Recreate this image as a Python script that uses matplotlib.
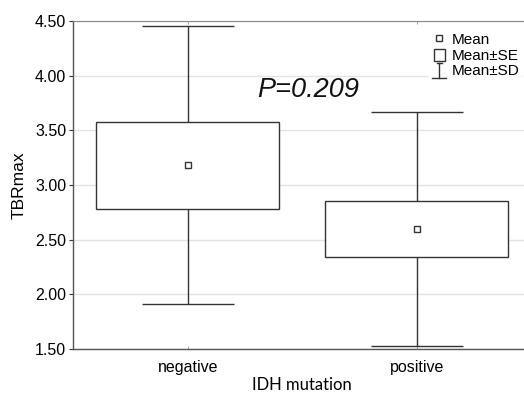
import matplotlib
matplotlib.use("Agg")
import matplotlib.pyplot as plt
from matplotlib.patches import Rectangle
from matplotlib.lines import Line2D
from matplotlib.legend_handler import HandlerBase

categories = ["negative", "positive"]
means = [3.18, 2.595]
se = [0.40, 0.255]
sd = [1.27, 1.07]
yticks = [1.50, 2.00, 2.50, 3.00, 3.50, 4.00, 4.50]
p_text = "P=0.209"

plt.rcParams['font.family'] = ['Liberation Sans', 'DejaVu Sans']
edge = "#333333"

fig = plt.figure(figsize=(5.24, 3.98), dpi=100)
W, H = 524, 398
x0, x1 = 73.3, 531.3
ytop, ybot = 21, 349
ax = fig.add_axes([x0 / W, (H - ybot) / H, (x1 - x0) / W, (ybot - ytop) / H])

positions = list(range(1, len(categories) + 1))
box_w = 0.8
cap_w = 0.4
for pos, m, s, d in zip(positions, means, se, sd):
    ax.vlines(pos, m - d, m - s, color=edge, lw=1.0, zorder=3)
    ax.vlines(pos, m + s, m + d, color=edge, lw=1.0, zorder=3)
    ax.hlines([m - d, m + d], pos - cap_w / 2, pos + cap_w / 2, color=edge, lw=1.0, zorder=3)
    ax.add_patch(Rectangle((pos - box_w / 2, m - s), box_w, 2 * s,
                           facecolor="white", edgecolor=edge, lw=1.0, zorder=3))
    ax.plot([pos], [m], marker='s', ms=4.5, mfc='white', mec=edge, mew=1.0, ls='none', zorder=4)

ax.set_xlim(0.5, 2.5)
ax.set_ylim(1.5, 4.5)
ax.set_yticks(yticks)
ax.set_yticklabels([f"{v:.2f}" for v in yticks], fontsize=11.5)
ax.set_xticks(positions)
ax.set_xticklabels(categories, fontsize=11.5)
ax.tick_params(axis='y', direction='out', length=3, width=0.8, color=edge, pad=2)
ax.tick_params(axis='x', direction='in', length=2, width=0.6, color='#888888', pad=8, top=True)
ax.grid(axis='y', color='#e3e3e3', lw=1.0, zorder=0)
ax.set_axisbelow(True)
for side in ['left', 'bottom']:
    ax.spines[side].set_color('#555555')
    ax.spines[side].set_linewidth(1.0)
ax.spines['top'].set_color('#888888')
ax.spines['top'].set_linewidth(0.8)
ax.spines['right'].set_visible(False)

ax.set_ylabel("TBRmax", fontsize=12.5, labelpad=6)
ax.set_xlabel("IDH mutation", fontsize=12, labelpad=1, family=['Lato', 'DejaVu Sans'])

ax.text(0.5135, 0.79, p_text, transform=ax.transAxes, fontsize=19.5, style='italic',
        ha='center', va='center', color='#111111')


class SDHandler(HandlerBase):
    def create_artists(self, legend, orig_handle, xdescent, ydescent, width, height, fontsize, trans):
        cx = width / 2 - xdescent
        y0 = -ydescent - 1.5
        y1 = y0 + 10.5
        return [Line2D([cx, cx], [y0, y1], color=edge, lw=1.0, transform=trans),
                Line2D([cx - 5, cx + 5], [y0, y0], color=edge, lw=1.0, transform=trans),
                Line2D([cx - 2, cx + 2], [y1, y1], color=edge, lw=1.0, transform=trans)]


class SEHandler(HandlerBase):
    def create_artists(self, legend, orig_handle, xdescent, ydescent, width, height, fontsize, trans):
        w = 7.4
        h = 8.8
        cx = width / 2 - xdescent
        r = Rectangle((cx - w / 2, -ydescent - 1.0), w, h, facecolor='white', edgecolor=edge,
                      lw=1.0, transform=trans)
        return [r]


h_mean = Line2D([], [], marker='s', ms=4.5, mfc='white', mec=edge, mew=1.0, ls='none')
h_se = Rectangle((0, 0), 1, 1)
h_sd = object()
leg = ax.legend([h_mean, h_se, h_sd], ["Mean", "Mean\u00b1SE", "Mean\u00b1SD"],
                handler_map={Rectangle: SEHandler(), object: SDHandler()},
                loc='upper right', bbox_to_anchor=((524 - x0) / (x1 - x0), 0.978), frameon=True,
                fontsize=11, handlelength=0.9, handletextpad=0.35, labelspacing=0.12,
                borderpad=0.3, borderaxespad=0.0)
leg.get_frame().set_edgecolor('none')
leg.get_frame().set_facecolor('white')

fig.savefig("out.png", dpi=100)
